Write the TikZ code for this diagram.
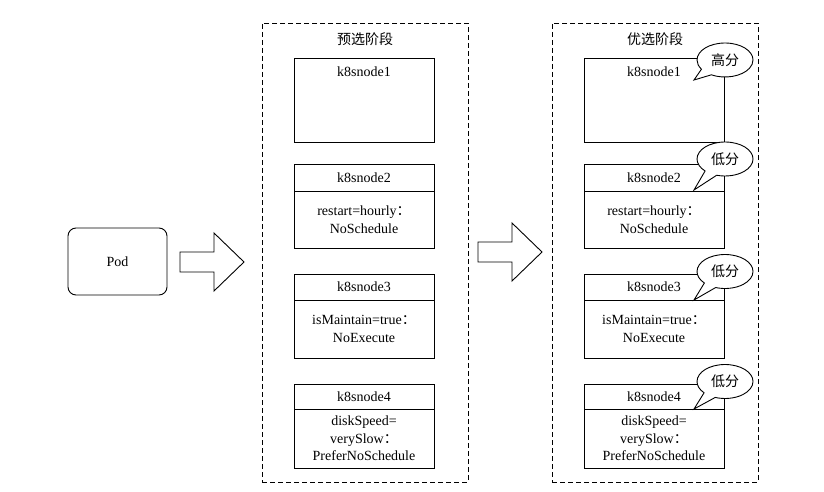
\documentclass[tikz,border=0pt]{standalone}
\usepackage{fontspec}
\setmainfont{Liberation Serif}
\newfontfamily\cjk{Noto Sans CJK SC}
\usetikzlibrary{shapes.callouts}
\begin{document}
\begin{tikzpicture}[x=1pt,y=-1pt,line width=0.9pt,
  every node/.style={font=\fontsize{14}{17.5}\selectfont},
  panel/.style={draw,dash pattern=on 5pt off 3pt,minimum width=206pt,minimum height=459pt,inner sep=0pt},
  boxpart/.style={draw,fill=white,minimum width=140pt,inner sep=0pt,align=center},
  podbox/.style={draw,rounded corners=8pt,minimum width=99pt,minimum height=67pt},
  bubble/.style={ellipse callout,draw,fill=white,minimum width=56pt,minimum height=34pt,inner sep=0pt,callout pointer arc=28},
  bigarrow/.style={draw,fill=white,line join=miter}]
\useasboundingbox (0,0) rectangle (824,492);
% panels
\node[panel] (pre) at (365,252.5) {};
\node[panel] (opt) at (655,252.5) {};
\node (pret) at (365,39) {\cjk 预选阶段};
\node (optt) at (655,39) {\cjk 优选阶段};
% pod
\node[podbox] (pod) at (117.5,261.5) {Pod};
% big arrows
\coordinate (a1) at (180,252);
\draw[bigarrow] (a1) -- (214,252) -- (214,233) -- (244,262) -- (214,291) -- (214,272) -- (180,272) -- cycle;
\coordinate (a2) at (478,242);
\draw[bigarrow] (a2) -- (512,242) -- (512,223) -- (542,252) -- (512,281) -- (512,262) -- (478,262) -- cycle;
% left panel boxes
\node[boxpart,minimum height=84pt] (l1) at (364,100) {};
\node (l1t) at (364,72) {k8snode1};
\node[boxpart,minimum height=27pt] (l2h) at (364,177.5) {k8snode2};
\node[boxpart,minimum height=57pt] (l2b) at (364,219.5) {restart=hourly{\cjk ：}\\NoSchedule};
\node[boxpart,minimum height=26pt] (l3h) at (364,287) {k8snode3};
\node[boxpart,minimum height=58pt] (l3b) at (364,329) {isMaintain=true{\cjk ：}\\NoExecute};
\node[boxpart,minimum height=25pt] (l4h) at (364,396.5) {k8snode4};
\node[boxpart,minimum height=59pt] (l4b) at (364,438.5) {diskSpeed=\\verySlow{\cjk ：}\\PreferNoSchedule};
% right panel boxes
\node[boxpart,minimum height=84pt] (r1) at (654,100) {};
\node (r1t) at (654,72) {k8snode1};
\node[boxpart,minimum height=27pt] (r2h) at (654,177.5) {k8snode2};
\node[boxpart,minimum height=57pt] (r2b) at (654,219.5) {restart=hourly{\cjk ：}\\NoSchedule};
\node[boxpart,minimum height=26pt] (r3h) at (654,287) {k8snode3};
\node[boxpart,minimum height=58pt] (r3b) at (654,329) {isMaintain=true{\cjk ：}\\NoExecute};
\node[boxpart,minimum height=25pt] (r4h) at (654,396.5) {k8snode4};
\node[boxpart,minimum height=59pt] (r4b) at (654,438.5) {diskSpeed=\\verySlow{\cjk ：}\\PreferNoSchedule};
% bubbles
\coordinate (p1) at (694,80);
\coordinate (p2) at (694,190);
\coordinate (p3) at (694,300);
\coordinate (p4) at (694,409);
\node[bubble,callout absolute pointer={(p1)}] (b1) at (725,60) {\cjk 高分};
\node[bubble,callout absolute pointer={(p2)}] (b2) at (725,159) {\cjk 低分};
\node[bubble,callout absolute pointer={(p3)}] (b3) at (725,271.5) {\cjk 低分};
\node[bubble,callout absolute pointer={(p4)}] (b4) at (725,381.5) {\cjk 低分};
\end{tikzpicture}
\end{document}
